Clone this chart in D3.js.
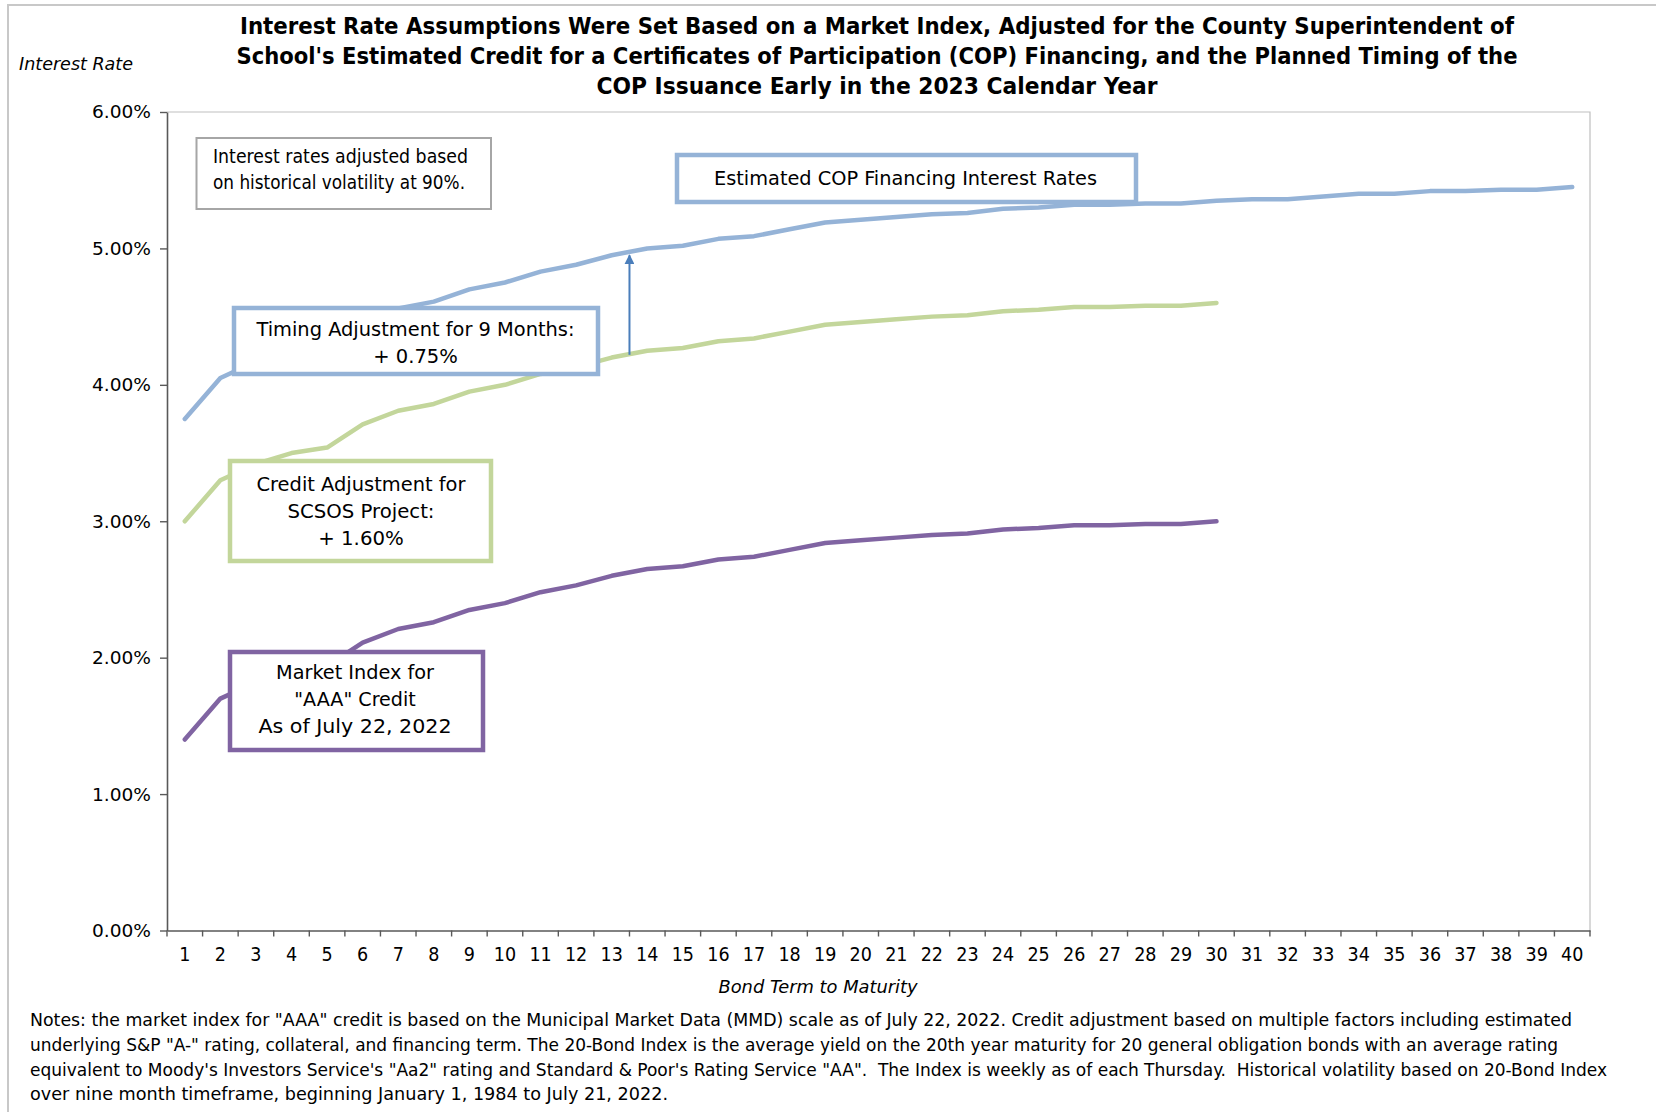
<!DOCTYPE html>
<html>
<head>
<meta charset="utf-8">
<script src="https://cdn.jsdelivr.net/npm/d3@7"></script>
<style>
  html, body { margin: 0; padding: 0; background: #ffffff; }
  svg { display: block; }
  text {
    font-family: "Liberation Sans Narrow", "DejaVu Sans Condensed", "Roboto Condensed", "Liberation Sans", sans-serif;
    fill: #000000;
    white-space: pre;
  }
</style>
</head>
<body>
<svg id="chart" width="1656" height="1112"></svg>
<script>
// ---- Data -------------------------------------------------------------
// Bond term to maturity (years)
const terms = [1, 2, 3, 4, 5, 6, 7, 8, 9, 10, 11, 12, 13, 14, 15, 16, 17, 18, 19, 20,
               21, 22, 23, 24, 25, 26, 27, 28, 29, 30, 31, 32, 33, 34, 35, 36, 37, 38, 39, 40];

// Market index for "AAA" credit as of July 22, 2022 (%), years 1-30
const marketIndex = [1.40, 1.70, 1.82, 1.90, 1.94, 2.11, 2.21, 2.26, 2.35, 2.40,
                     2.48, 2.53, 2.60, 2.65, 2.67, 2.72, 2.74, 2.79, 2.84, 2.86,
                     2.88, 2.90, 2.91, 2.94, 2.95, 2.97, 2.97, 2.98, 2.98, 3.00];

// Market index plus credit adjustment for the SCSOS project (%), years 1-30
const creditAdjusted = [3.00, 3.30, 3.42, 3.50, 3.54, 3.71, 3.81, 3.86, 3.95, 4.00,
                        4.08, 4.13, 4.20, 4.25, 4.27, 4.32, 4.34, 4.39, 4.44, 4.46,
                        4.48, 4.50, 4.51, 4.54, 4.55, 4.57, 4.57, 4.58, 4.58, 4.60];

// Estimated COP financing interest rates (%), years 1-40
const copRates = [3.75, 4.05, 4.17, 4.25, 4.29, 4.46, 4.56, 4.61, 4.70, 4.75,
                  4.83, 4.88, 4.95, 5.00, 5.02, 5.07, 5.09, 5.14, 5.19, 5.21,
                  5.23, 5.25, 5.26, 5.29, 5.30, 5.32, 5.32, 5.33, 5.33, 5.35,
                  5.36, 5.36, 5.38, 5.40, 5.40, 5.42, 5.42, 5.43, 5.43, 5.45];

// Y axis ticks (%)
const yTicks = [0, 1, 2, 3, 4, 5, 6];

// Timing adjustment arrow: drawn between two terms, from the credit-adjusted curve up to the COP curve
const timingArrowTerms = [13, 14];
const timingArrowFrom = 4.22;
const timingArrowTo = 4.95;

// ---- Text -------------------------------------------------------------
const titleLines = [
  "Interest Rate Assumptions Were Set Based on a Market Index, Adjusted for the County Superintendent of",
  "School's Estimated Credit for a Certificates of Participation (COP) Financing, and the Planned Timing of the",
  "COP Issuance Early in the 2023 Calendar Year"
];
const noteLines = [
  "Notes: the market index for \"AAA\" credit is based on the Municipal Market Data (MMD) scale as of July 22, 2022. Credit adjustment based on multiple factors including estimated",
  "underlying S&P \"A-\" rating, collateral, and financing term. The 20-Bond Index is the average yield on the 20th year maturity for 20 general obligation bonds with an average rating",
  "equivalent to Moody's Investors Service's \"Aa2\" rating and Standard & Poor's Rating Service \"AA\".  The Index is weekly as of each Thursday.  Historical volatility based on 20-Bond Index",
  "over nine month timeframe, beginning January 1, 1984 to July 21, 2022."
];

// ---- Layout -----------------------------------------------------------
const W = 1656, H = 1112;
const plot = { left: 167, right: 1590, top: 112, bottom: 930.5 };
const colors = {
  cop: "#95b3d7",
  credit: "#c3d69b",
  market: "#8064a2",
  arrow: "#4a7ebb",
  note: "#a6a6a6",
  axis: "#595959",
  frame: "#c8c8c8",
  border: "#bfbfbf"
};

const svg = d3.select("#chart");

// helper: text with an optional fitted width
function addText(g, o) {
  const t = g.append("text")
    .attr("x", o.x)
    .attr("y", o.y)
    .attr("dy", o.dy || "0.35em")
    .attr("text-anchor", o.anchor || "start")
    .style("font-size", (o.size || 17) + "px")
    .style("font-weight", o.weight || "normal")
    .style("font-style", o.style || "normal")
    .text(o.text);
  if (o.width) t.attr("textLength", o.width).attr("lengthAdjust", "spacingAndGlyphs");
  return t;
}

// Outer frame
svg.append("path")
  .attr("d", `M8,${H + 5} L8,5 L${W + 5},5`)
  .attr("fill", "none")
  .attr("stroke", colors.frame)
  .attr("stroke-width", 2);

// ---- Scales -----------------------------------------------------------
const x = d3.scaleBand().domain(terms).range([plot.left, plot.right]).padding(0);
const xc = t => x(t) + x.bandwidth() / 2;
const y = d3.scaleLinear().domain([0, 6]).range([plot.bottom, plot.top]);

// Plot area border (top and right)
svg.append("path")
  .attr("d", `M${plot.left},${plot.top} L${plot.right},${plot.top} L${plot.right},${plot.bottom}`)
  .attr("fill", "none")
  .attr("stroke", colors.border)
  .attr("stroke-width", 1.2);

// ---- Axes -------------------------------------------------------------
const yAxis = svg.append("g")
  .attr("transform", `translate(${plot.left},0)`)
  .call(d3.axisLeft(y).tickValues(yTicks).tickFormat(d => d.toFixed(2) + "%")
        .tickSize(7).tickSizeOuter(0).tickPadding(9));
yAxis.select(".domain").attr("stroke", colors.axis).attr("stroke-width", 1.6);
yAxis.selectAll(".tick line").attr("stroke", colors.axis).attr("stroke-width", 1.4);
yAxis.selectAll(".tick text")
  .style("font-size", "18.5px")
  .attr("fill", "#000")
  .attr("textLength", 59)
  .attr("lengthAdjust", "spacingAndGlyphs");

const xAxis = svg.append("g")
  .attr("transform", `translate(0,${plot.bottom})`)
  .call(d3.axisBottom(x).tickSize(0).tickSizeOuter(0).tickPadding(17));
xAxis.select(".domain").attr("stroke", colors.axis).attr("stroke-width", 1.6);
xAxis.selectAll(".tick text")
  .style("font-size", "19.5px")
  .attr("fill", "#000");

// category boundary ticks under the x axis
const boundaries = terms.map(t => x(t)).concat([x(terms[terms.length - 1]) + x.bandwidth()]);
svg.append("g").selectAll("line")
  .data(boundaries)
  .join("line")
  .attr("x1", d => d).attr("x2", d => d)
  .attr("y1", plot.bottom).attr("y2", plot.bottom + 6)
  .attr("stroke", colors.axis)
  .attr("stroke-width", 1.4);

// Axis titles
addText(svg, { x: 19, y: 64, text: "Interest Rate", size: 18, style: "italic", width: 114 });
addText(svg, { x: 818, y: 987, text: "Bond Term to Maturity", size: 18, style: "italic", anchor: "middle", width: 199 });

// ---- Lines ------------------------------------------------------------
const line = d3.line().x(d => xc(d.t)).y(d => y(d.v));
const series = [
  { values: copRates, color: colors.cop },
  { values: creditAdjusted, color: colors.credit },
  { values: marketIndex, color: colors.market }
];
svg.append("g").selectAll("path")
  .data(series)
  .join("path")
  .attr("d", s => line(s.values.map((v, i) => ({ t: terms[i], v }))))
  .attr("fill", "none")
  .attr("stroke", s => s.color)
  .attr("stroke-width", 4.5)
  .attr("stroke-linejoin", "round")
  .attr("stroke-linecap", "round");

// ---- Timing adjustment arrow -----------------------------------------
const arrowX = (xc(timingArrowTerms[0]) + xc(timingArrowTerms[1])) / 2;
svg.append("defs").append("marker")
  .attr("id", "arrowhead")
  .attr("viewBox", "0 0 10 10")
  .attr("refX", 9).attr("refY", 5)
  .attr("markerWidth", 5).attr("markerHeight", 5)
  .attr("markerUnits", "strokeWidth")
  .attr("orient", "auto")
  .append("path")
  .attr("d", "M0,0 L10,5 L0,10 Z")
  .attr("fill", colors.arrow);
svg.append("line")
  .attr("x1", arrowX).attr("x2", arrowX)
  .attr("y1", y(timingArrowFrom)).attr("y2", y(timingArrowTo))
  .attr("stroke", colors.arrow)
  .attr("stroke-width", 2)
  .attr("marker-end", "url(#arrowhead)");

// ---- Annotation boxes -------------------------------------------------
const boxes = [
  { x: 196.5, y: 138, w: 294.5, h: 71, stroke: colors.note, sw: 2, anchor: "start",
    lines: [
      { text: "Interest rates adjusted based", x: 213, y: 156, width: 255 },
      { text: "on historical volatility at 90%.", x: 213, y: 182, width: 252 }
    ] },
  { x: 677, y: 155, w: 459, h: 47, stroke: colors.cop, sw: 4.5, anchor: "middle",
    lines: [
      { text: "Estimated COP Financing Interest Rates", x: 905.5, y: 178.5, width: 383 }
    ] },
  { x: 234, y: 308, w: 364, h: 66, stroke: colors.cop, sw: 4.5, anchor: "middle",
    lines: [
      { text: "Timing Adjustment for 9 Months:", x: 415.5, y: 329.5, width: 318 },
      { text: "+ 0.75%", x: 415.5, y: 356, width: 84.5 }
    ] },
  { x: 230, y: 461, w: 261, h: 100, stroke: colors.credit, sw: 4.5, anchor: "middle",
    lines: [
      { text: "Credit Adjustment for", x: 361, y: 484.5, width: 209 },
      { text: "SCSOS Project:", x: 361, y: 511.5, width: 147 },
      { text: "+ 1.60%", x: 361, y: 538.5, width: 85.5 }
    ] },
  { x: 230, y: 652, w: 253, h: 98, stroke: colors.market, sw: 4.5, anchor: "middle",
    lines: [
      { text: "Market Index for", x: 355, y: 672.5, width: 158 },
      { text: "\"AAA\" Credit", x: 355, y: 699.5, width: 121.5 },
      { text: "As of July 22, 2022", x: 355, y: 726.5, width: 193 }
    ] }
];
const boxG = svg.append("g");
boxes.forEach(b => {
  const g = boxG.append("g");
  g.append("rect")
    .attr("x", b.x).attr("y", b.y).attr("width", b.w).attr("height", b.h)
    .attr("fill", "#ffffff")
    .attr("stroke", b.stroke)
    .attr("stroke-width", b.sw);
  b.lines.forEach(l => addText(g, { x: l.x, y: l.y, text: l.text, size: 19, anchor: b.anchor, width: l.width }));
});

// ---- Title ------------------------------------------------------------
const titleWidths = [1274, 1281, 561];
const titleY = [26, 56, 86];
titleLines.forEach((t, i) =>
  addText(svg, { x: 877, y: titleY[i], text: t, size: 23, weight: "bold", anchor: "middle", width: titleWidths[i] }));

// ---- Notes ------------------------------------------------------------
const noteWidths = [1542, 1528, 1577, 638];
const noteY = [1020, 1045.5, 1070, 1094];
noteLines.forEach((t, i) =>
  addText(svg, { x: 30, y: noteY[i], text: t, size: 17, width: noteWidths[i] }));
</script>
</body>
</html>
